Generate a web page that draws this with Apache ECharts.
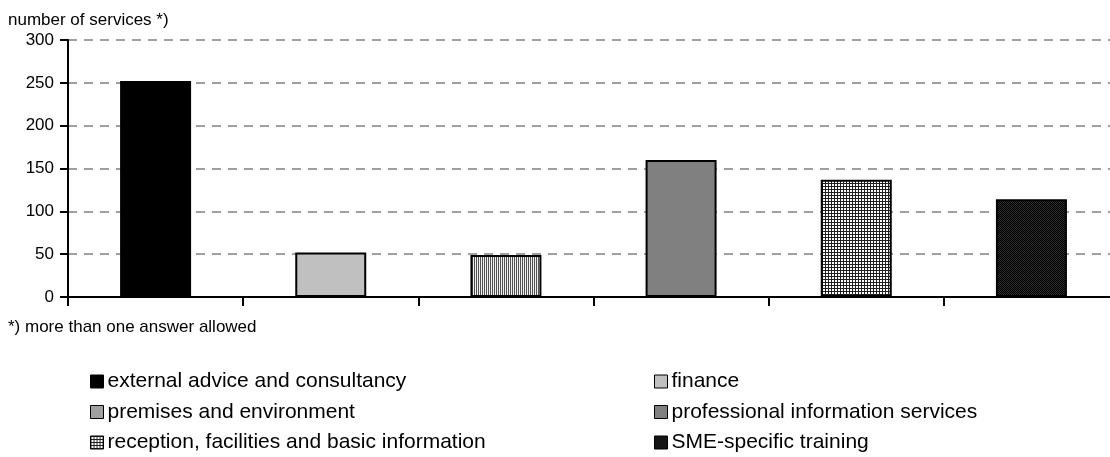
<!DOCTYPE html>
<html>
<head>
<meta charset="utf-8">
<script src="https://cdn.jsdelivr.net/npm/echarts@6/dist/echarts.min.js"></script>
<style>
  html, body { margin: 0; padding: 0; background: #fff; }
  #chart { width: 1110px; height: 457px; }
</style>
</head>
<body>
<div id="chart"></div>
<script>
// Services offered, one bar per type
const categories = [
  'external advice and consultancy',
  'finance',
  'premises and environment',
  'professional information services',
  'reception, facilities and basic information',
  'SME-specific training'
];
const values = [252, 52, 49, 160, 137, 114];
const yTicks = [0, 50, 100, 150, 200, 250, 300];

// Small tiled fills for the hatched bars
function makePattern(size, draw) {
  const c = document.createElement('canvas');
  c.width = size; c.height = size;
  const g = c.getContext('2d');
  draw(g, size);
  return { image: c, repeat: 'repeat' };
}
const fills = [
  '#000000',
  '#c0c0c0',
  makePattern(2, (g) => { g.fillStyle = '#f0f0f0'; g.fillRect(0, 0, 2, 2); g.fillStyle = '#505050'; g.fillRect(0, 0, 1, 2); }),
  '#808080',
  makePattern(3, (g) => { g.fillStyle = '#ffffff'; g.fillRect(0, 0, 3, 3); g.fillStyle = '#202020'; g.fillRect(0, 0, 3, 1); g.fillRect(0, 0, 1, 3); }),
  makePattern(2, (g) => { g.fillStyle = '#2a2a2a'; g.fillRect(0, 0, 2, 2); g.fillStyle = '#000000'; g.fillRect(0, 0, 1, 1); g.fillRect(1, 1, 1, 1); })
];

const series = categories.map((name, i) => ({
  name: name,
  type: 'bar',
  barWidth: 71,
  barGap: '-100%',
  data: categories.map((_, j) => (j === i ? values[i] : '-')),
  itemStyle: { color: fills[i], borderColor: '#000', borderWidth: 2 },
  emphasis: { disabled: true },
  animation: false
}));

const font = 'Arial, "Liberation Sans", sans-serif';
const legendCommon = {
  orient: 'vertical',
  top: 371,
  height: 86,
  padding: 0,
  itemWidth: 13,
  itemHeight: 13,
  itemGap: 9.5,
  icon: 'rect',
  textStyle: { fontFamily: font, fontSize: 21, lineHeight: 21, color: '#000', padding: [0, 0, 0, -1] },
  itemStyle: { borderColor: '#000', borderWidth: 1 },
  selectedMode: false
};

const chart = echarts.init(document.getElementById('chart'), null, { renderer: 'canvas' });
chart.setOption({
  backgroundColor: '#fff',
  animation: false,
  // the last category runs slightly past the right edge
  grid: { left: 68, top: 40, right: -9, height: 257, outerBoundsMode: 'none', containLabel: false },
  title: [
    { text: 'number of services *)', left: 8, top: 12, padding: 0,
      textStyle: { fontFamily: font, fontSize: 17, fontWeight: 'normal', color: '#000' } },
    { text: '*) more than one answer allowed', left: 8, top: 319, padding: 0,
      textStyle: { fontFamily: font, fontSize: 17, fontWeight: 'normal', color: '#000' } }
  ],
  legend: [
    Object.assign({}, legendCommon, { left: 90, data: [categories[0], categories[2], categories[4]] }),
    Object.assign({}, legendCommon, { left: 654, data: [categories[1], categories[3], categories[5]] })
  ],
  xAxis: {
    type: 'category',
    data: categories,
    boundaryGap: true,
    axisLine: { lineStyle: { color: '#000', width: 2 } },
    axisTick: { show: true, interval: 0, length: 9, lineStyle: { color: '#000', width: 2 } },
    axisLabel: { show: false },
    splitLine: { show: false }
  },
  yAxis: {
    type: 'value',
    min: yTicks[0],
    max: yTicks[yTicks.length - 1],
    interval: 50,
    axisLine: { show: true, lineStyle: { color: '#000', width: 2 } },
    axisTick: { show: true, length: 8, lineStyle: { color: '#000', width: 2 } },
    axisLabel: { fontFamily: font, fontSize: 17, color: '#000', margin: 14 },
    splitLine: { show: true, lineStyle: { color: '#808080', width: 1.5, type: [9, 7] } }
  },
  series: series
});
</script>
</body>
</html>
